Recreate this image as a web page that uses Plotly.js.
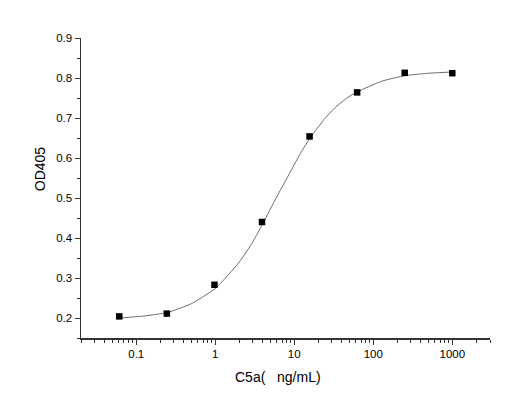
<!DOCTYPE html>
<html>
<head>
<meta charset="utf-8">
<script src="https://cdn.plot.ly/plotly-3.0.1.min.js"></script>
<style>
  html, body { margin: 0; padding: 0; background: white; }
  #chart { width: 520px; height: 416px; }
</style>
</head>
<body>
<div id="chart"></div>
<script>
// Measured points (C5a ng/mL vs OD405)
const conc = [0.061, 0.244, 0.977, 3.906, 15.625, 62.5, 250, 1000];
const od = [0.204, 0.211, 0.283, 0.440, 0.654, 0.764, 0.813, 0.812];

// Fitted curve
const fitX = [0.0625, 0.125, 0.25, 0.5, 1, 2, 3, 4, 6, 8, 12, 16, 24, 32, 48, 64, 128, 256, 512, 1000];
const fitY = [0.200, 0.205, 0.214, 0.236, 0.274, 0.339, 0.391, 0.436, 0.503, 0.548, 0.612, 0.651, 0.697, 0.724, 0.752, 0.766, 0.792, 0.806, 0.812, 0.815];

// Axis labels
const xTickVals = [0.1, 1, 10, 100, 1000];
const xTickText = ['0.1', '1', '10', '100', '1000'];
const yTickVals = [0.2, 0.3, 0.4, 0.5, 0.6, 0.7, 0.8, 0.9];
const xTitle = 'C5a(   ng/mL)';
const yTitle = 'OD405';

// minor ticks on the log axis: 2..9 of each decade, clipped to the range
const xMinor = [];
[0.01, 0.1, 1, 10, 100, 1000].forEach(d => {
    for (let k = 2; k <= 9; k++) {
        const v = d * k;
        if (v >= 0.02 && v <= 3000) xMinor.push(v);
    }
});

const traces = [
    {
        x: fitX,
        y: fitY,
        mode: 'lines',
        type: 'scatter',
        line: { color: '#6e6e6e', width: 1, shape: 'spline', smoothing: 0.6 },
        hoverinfo: 'skip',
        showlegend: false
    },
    {
        x: conc,
        y: od,
        mode: 'markers',
        type: 'scatter',
        marker: { symbol: 'square', color: 'black', size: 6.5 },
        showlegend: false
    }
];

const layout = {
    width: 520,
    height: 416,
    margin: { l: 81, r: 30, t: 38, b: 78 },
    paper_bgcolor: 'white',
    plot_bgcolor: 'white',
    font: { family: 'Liberation Sans, Arial, sans-serif', color: 'black' },
    xaxis: {
        type: 'log',
        range: [Math.log10(0.02), Math.log10(3000)],
        tickmode: 'array',
        tickvals: xTickVals,
        ticktext: xTickText,
        ticks: 'outside',
        ticklen: 5,
        tickwidth: 1,
        tickcolor: '#333',
        tickfont: { size: 11.5 },
        minor: { tickmode: 'array', tickvals: xMinor, ticks: 'outside', ticklen: 3, tickwidth: 1, tickcolor: '#333' },
        showline: true,
        linecolor: '#333',
        linewidth: 1.5,
        showgrid: false,
        zeroline: false
    },
    yaxis: {
        range: [0.15, 0.9],
        tickmode: 'array',
        tickvals: yTickVals,
        ticks: 'outside',
        ticklen: 5,
        tickwidth: 1,
        tickcolor: '#333',
        tickfont: { size: 11.5 },
        minor: { dtick: 0.05, tick0: 0.15, ticks: 'outside', ticklen: 3, tickwidth: 1, tickcolor: '#333' },
        showline: true,
        linecolor: '#333',
        linewidth: 1.5,
        showgrid: false,
        zeroline: false
    },
    // axis titles sit a little off-centre in the original, so place them as annotations
    annotations: [
        {
            text: xTitle,
            xref: 'paper', yref: 'paper',
            x: 0.482, y: -0.13,
            xanchor: 'center', yanchor: 'middle',
            showarrow: false,
            font: { size: 14 }
        },
        {
            text: yTitle,
            xref: 'paper', yref: 'paper',
            x: -0.100, y: 0.563,
            xanchor: 'center', yanchor: 'middle',
            textangle: -90,
            showarrow: false,
            font: { size: 14 }
        }
    ]
};

Plotly.newPlot('chart', traces, layout, { displayModeBar: false, staticPlot: true });
</script>
</body>
</html>
